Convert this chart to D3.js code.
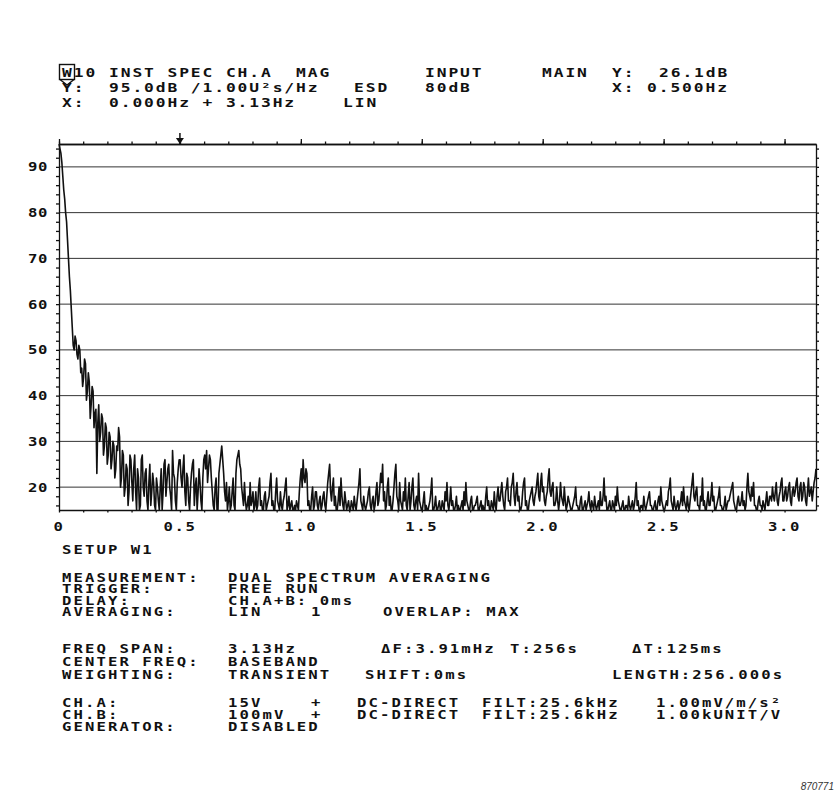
<!DOCTYPE html>
<html>
<head>
<meta charset="utf-8">
<script src="https://cdn.jsdelivr.net/npm/d3@7"></script>
<style>
  body { margin: 0; background: #fff; }
  svg text { font-family: "DejaVu Sans Mono", monospace; white-space: pre; fill: #111; }
</style>
</head>
<body>
<svg id="chart" width="840" height="798"></svg>
<script>
// instantaneous spectrum, 0 .. 3.13 Hz, 801 lines (3.91 mHz), dB
const spanHz = 3.13;
const levelDb = [
  95, 94, 93, 91, 88, 85, 83, 80, 78, 74, 70, 66, 63, 59, 55, 51, 50, 53, 52, 49,
  48, 51, 50, 45, 46, 42, 44, 48, 47, 39, 41, 45, 43, 35, 38, 42, 41, 33, 36, 37,
  23, 34, 38, 30, 32, 36, 35, 27, 29, 34, 33, 25, 27, 32, 31, 24, 26, 30, 29, 22,
  24, 29, 28, 33, 31, 20, 22, 28, 27, 18, 20, 25, 24, 16, 19, 27, 26, 21, 17, 24,
  27, 19, 15, 24, 22, 15, 16, 26, 27, 20, 18, 23, 24, 17, 15, 21, 25, 16, 19, 23,
  21, 16, 15, 22, 20, 17, 15, 20, 24, 15, 19, 25, 26, 18, 21, 24, 25, 20, 18, 15,
  28, 23, 22, 17, 15, 21, 24, 26, 26, 22, 20, 24, 27, 19, 16, 23, 22, 17, 15, 20,
  23, 25, 26, 16, 20, 22, 15, 19, 24, 21, 17, 15, 22, 26, 27, 24, 28, 21, 24, 27,
  26, 22, 19, 16, 15, 20, 22, 15, 15, 23, 25, 27, 29, 26, 23, 19, 17, 21, 15, 17,
  20, 15, 16, 19, 22, 16, 15, 23, 26, 27, 28, 25, 24, 20, 18, 16, 21, 17, 15, 16,
  18, 15, 21, 16, 17, 19, 15, 16, 19, 15, 16, 20, 22, 16, 17, 15, 15, 18, 19, 15,
  16, 17, 18, 21, 23, 16, 17, 15, 15, 19, 22, 17, 16, 15, 19, 16, 15, 17, 18, 20,
  22, 15, 16, 18, 15, 16, 17, 15, 15, 16, 15, 17, 16, 15, 19, 22, 24, 20, 26, 22,
  21, 24, 23, 16, 17, 15, 15, 18, 20, 15, 16, 19, 19, 16, 15, 17, 18, 15, 16, 18,
  19, 16, 15, 18, 21, 23, 25, 19, 17, 20, 22, 16, 18, 15, 15, 17, 20, 16, 22, 18,
  16, 15, 19, 17, 15, 16, 17, 15, 15, 17, 16, 15, 18, 16, 15, 17, 19, 21, 24, 17,
  16, 15, 18, 16, 15, 16, 17, 19, 20, 16, 15, 17, 18, 15, 16, 19, 21, 16, 17, 20,
  23, 21, 25, 17, 19, 15, 16, 20, 22, 16, 18, 15, 15, 17, 20, 23, 25, 18, 17, 15,
  21, 17, 16, 15, 19, 17, 22, 16, 15, 18, 21, 15, 17, 20, 22, 16, 15, 17, 18, 15,
  23, 17, 16, 15, 15, 17, 19, 15, 16, 15, 15, 16, 17, 19, 22, 15, 15, 16, 18, 15,
  15, 16, 17, 15, 15, 17, 16, 15, 19, 17, 21, 16, 15, 17, 20, 16, 17, 15, 15, 16,
  18, 15, 16, 15, 15, 16, 17, 15, 19, 16, 21, 17, 16, 15, 15, 17, 18, 15, 15, 16,
  16, 17, 18, 15, 15, 16, 17, 15, 16, 15, 15, 18, 20, 16, 17, 15, 15, 17, 16, 15,
  19, 16, 15, 18, 20, 17, 17, 19, 21, 18, 16, 15, 19, 20, 22, 17, 17, 16, 20, 21,
  23, 18, 16, 19, 21, 17, 18, 15, 15, 16, 19, 21, 22, 16, 17, 15, 15, 17, 18, 19,
  20, 17, 16, 18, 19, 21, 23, 18, 17, 21, 23, 19, 20, 17, 16, 18, 19, 22, 24, 19,
  18, 20, 21, 16, 16, 17, 20, 17, 15, 17, 21, 18, 17, 16, 20, 17, 15, 16, 18, 17,
  16, 15, 15, 16, 17, 18, 20, 16, 16, 15, 15, 17, 18, 15, 15, 16, 17, 15, 16, 17,
  19, 16, 15, 17, 16, 15, 18, 16, 15, 16, 17, 15, 19, 16, 16, 18, 22, 17, 18, 15,
  15, 16, 17, 15, 15, 17, 16, 15, 18, 16, 20, 17, 16, 15, 15, 16, 17, 15, 15, 16,
  16, 15, 18, 16, 15, 16, 17, 15, 16, 18, 21, 16, 17, 15, 15, 16, 16, 15, 18, 16,
  15, 16, 17, 18, 19, 16, 16, 15, 15, 16, 17, 15, 15, 17, 18, 16, 20, 17, 16, 15,
  15, 16, 17, 16, 19, 20, 22, 17, 16, 15, 18, 16, 15, 16, 17, 15, 16, 17, 19, 16,
  20, 17, 16, 15, 18, 16, 15, 17, 19, 21, 23, 18, 17, 19, 20, 16, 16, 15, 18, 17,
  22, 16, 17, 15, 15, 17, 19, 16, 16, 18, 21, 17, 18, 15, 15, 16, 17, 18, 20, 16,
  16, 15, 15, 16, 18, 15, 16, 17, 17, 18, 19, 20, 21, 17, 16, 15, 15, 17, 18, 16,
  16, 17, 19, 16, 17, 15, 16, 20, 23, 19, 18, 17, 20, 18, 21, 16, 16, 15, 15, 17,
  18, 16, 16, 15, 17, 16, 15, 17, 19, 16, 16, 18, 18, 17, 20, 18, 17, 19, 21, 17,
  16, 18, 19, 21, 22, 17, 17, 19, 20, 17, 18, 20, 21, 17, 16, 19, 20, 18, 19, 21,
  22, 18, 17, 20, 21, 17, 18, 21, 20, 17, 16, 19, 22, 18, 19, 20, 17, 19, 21, 22,
  24
];
const yLabelTicks = [20, 30, 40, 50, 60, 70, 80, 90];
const xLabelTicks = [0, 0.5, 1.0, 1.5, 2.0, 2.5, 3.0];
const xLabels = ["0", "0.5", "1.0", "1.5", "2.0", "2.5", "3.0"];
const cursorHz = 0.5;

const headerText = [
  ["W10", "INST SPEC CH.A  MAG", "INPUT", "MAIN", "Y:", "26.1dB"],
  ["Y:", "95.0dB /1.00U²s/Hz", "ESD", "80dB", "X:", "0.500Hz"],
  ["X:", "0.000Hz + 3.13Hz", "LIN"]
];
const setupText = [
  ["SETUP W1"],
  ["MEASUREMENT:", "DUAL SPECTRUM AVERAGING"],
  ["TRIGGER:", "FREE RUN"],
  ["DELAY:", "CH.A+B: 0ms"],
  ["AVERAGING:", "LIN", "1", "OVERLAP: MAX"],
  ["FREQ SPAN:", "3.13Hz", "ΔF:3.91mHz", "T:256s", "ΔT:125ms"],
  ["CENTER FREQ:", "BASEBAND"],
  ["WEIGHTING:", "TRANSIENT", "SHIFT:0ms", "LENGTH:256.000s"],
  ["CH.A:", "15V", "+", "DC-DIRECT", "FILT:25.6kHz", "1.00mV/m/s²"],
  ["CH.B:", "100mV", "+", "DC-DIRECT", "FILT:25.6kHz", "1.00kUNIT/V"],
  ["GENERATOR:", "DISABLED"]
];

// layout
const headerX = [[62, 109, 425, 542, 612, 659], [62, 109, 354, 425, 612, 647], [62, 109, 343]];
const headerY = [72, 87, 102];
const setupX = [
  [62], [62, 228], [62, 228], [62, 228], [62, 228, 311, 383],
  [62, 228, 381, 510, 632], [62, 228], [62, 228, 365, 612],
  [62, 228, 311, 357, 482, 656], [62, 228, 311, 357, 482, 656], [62, 228]
];
const setupY = [549, 577, 588.5, 600, 611.5, 648, 661, 674, 702, 714, 726];

const svg = d3.select("#chart");
const plot = { left: 59, right: 816, top: 144, bottom: 510 };

const x = d3.scaleLinear().domain([0, spanHz]).range([plot.left, plot.right]);
const y = d3.scaleLinear().domain([15, 95]).range([plot.bottom, plot.top]);

function label(parent, tx, ty, str, size, spacing, anchor) {
  return parent.append("text")
    .attr("transform", `translate(${tx},${ty}) scale(1.25,1)`)
    .attr("text-anchor", anchor || "start")
    .attr("dy", "0.36em")
    .style("font-size", size + "px")
    .style("letter-spacing", spacing + "px")
    .style("font-weight", "bold")
    .text(str);
}

// horizontal grid
svg.append("g").selectAll("line")
  .data(yLabelTicks)
  .join("line")
  .attr("x1", plot.left).attr("x2", plot.right)
  .attr("y1", d => y(d)).attr("y2", d => y(d))
  .attr("stroke", "#333").attr("stroke-width", 1);

// frame with small ticks
const minorX = d3.range(0, 31).map(d => d / 10);
const majorX = minorX.filter(d => Math.round(d * 10) % 5 === 0);
const minorY = d3.range(16, 95, 2);

function tickAxis(axis, tr) {
  const g = svg.append("g").attr("transform", tr).call(axis);
  g.select(".domain").attr("stroke", "#111").attr("stroke-width", 1.3);
  g.selectAll(".tick line").attr("stroke", "#111").attr("stroke-width", 1.3);
  g.selectAll("text").remove();
  return g;
}
tickAxis(d3.axisTop(x).tickValues(minorX).tickSize(2.5).tickSizeOuter(0), `translate(0,${plot.top})`);
tickAxis(d3.axisTop(x).tickValues(majorX).tickSize(5).tickSizeOuter(0), `translate(0,${plot.top})`);
tickAxis(d3.axisBottom(x).tickValues(minorX).tickSize(2.5).tickSizeOuter(0), `translate(0,${plot.bottom})`);
tickAxis(d3.axisLeft(y).tickValues(minorY).tickSize(3).tickSizeOuter(0), `translate(${plot.left},0)`);
tickAxis(d3.axisRight(y).tickValues(minorY).tickSize(3).tickSizeOuter(0), `translate(${plot.right},0)`);

// tick labels
const yl = svg.append("g");
yLabelTicks.forEach(d => label(yl, 48, y(d), String(d), 12.5, 0.5, "end"));
const xl = svg.append("g");
xLabelTicks.forEach((d, i) => label(xl, x(d), 526, xLabels[i], 12.5, 1.3, "middle"));

// cursor marker at top
const cx = x(cursorHz);
svg.append("line").attr("x1", cx).attr("x2", cx).attr("y1", plot.top - 11).attr("y2", plot.top)
  .attr("stroke", "#111").attr("stroke-width", 1.5);
svg.append("path")
  .attr("d", `M${cx - 4},${plot.top - 6} L${cx + 4},${plot.top - 6} L${cx},${plot.top} Z`)
  .attr("fill", "#111");

// spectrum trace
const step = spanHz / (levelDb.length - 1);
const line = d3.line()
  .x((d, i) => x(i * step))
  .y(d => y(d));
svg.append("path")
  .datum(levelDb)
  .attr("d", line)
  .attr("fill", "none")
  .attr("stroke", "#111")
  .attr("stroke-width", 1.6)
  .attr("stroke-linejoin", "round");

// header block
const hdr = svg.append("g");
headerText.forEach((row, r) => {
  row.forEach((s, c) => label(hdr, headerX[r][c], headerY[r], s, 13, 1.53));
});
// marker box around W with pointer
hdr.append("rect").attr("x", 59.5).attr("y", headerY[0] - 7.5).attr("width", 15).attr("height", 15)
  .attr("fill", "none").attr("stroke", "#111").attr("stroke-width", 1.4);
hdr.append("path")
  .attr("d", `M60,${headerY[0] + 7.5} L67,${headerY[0] + 13} L74,${headerY[0] + 7.5}`)
  .attr("fill", "none").attr("stroke", "#111").attr("stroke-width", 1.4);

// setup block
const setup = svg.append("g");
setupText.forEach((row, r) => {
  row.forEach((s, c) => label(setup, setupX[r][c], setupY[r], s, 12.5, 1.67));
});

svg.append("text")
  .attr("x", 834).attr("y", 790)
  .attr("text-anchor", "end")
  .style("font-family", "'Liberation Sans', Arial, sans-serif")
  .style("font-style", "italic")
  .style("font-size", "10px")
  .style("fill", "#333")
  .text("870771");
</script>
</body>
</html>
